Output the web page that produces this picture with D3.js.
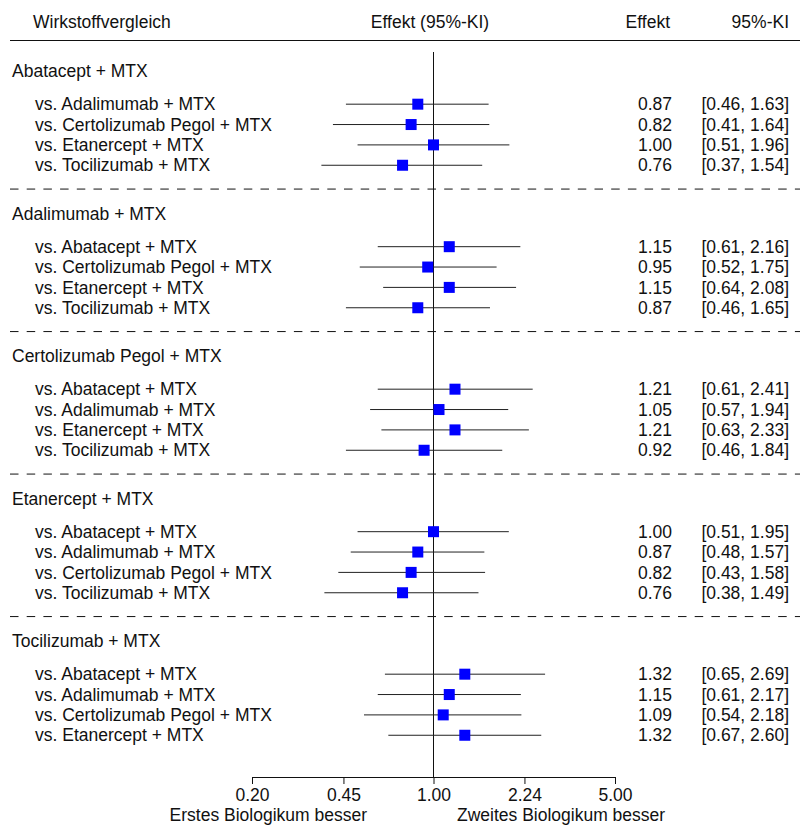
<!DOCTYPE html>
<html>
<head>
<meta charset="utf-8">
<script src="https://cdn.jsdelivr.net/npm/d3@7"></script>
<style>
  body { margin: 0; background: #fff; }
  text { font-family: 'Liberation Sans', Arial, sans-serif; fill: #111; }
</style>
</head>
<body>
<div id="chart"></div>
<script>
const groups = ['Abatacept + MTX', 'Adalimumab + MTX', 'Certolizumab Pegol + MTX', 'Etanercept + MTX', 'Tocilizumab + MTX']

const comparators = [
  ['Adalimumab + MTX', 'Certolizumab Pegol + MTX', 'Etanercept + MTX', 'Tocilizumab + MTX'],
  ['Abatacept + MTX', 'Certolizumab Pegol + MTX', 'Etanercept + MTX', 'Tocilizumab + MTX'],
  ['Abatacept + MTX', 'Adalimumab + MTX', 'Etanercept + MTX', 'Tocilizumab + MTX'],
  ['Abatacept + MTX', 'Adalimumab + MTX', 'Certolizumab Pegol + MTX', 'Tocilizumab + MTX'],
  ['Abatacept + MTX', 'Adalimumab + MTX', 'Certolizumab Pegol + MTX', 'Etanercept + MTX']
]

const effects = [
  [0.87, 0.82, 1.00, 0.76],
  [1.15, 0.95, 1.15, 0.87],
  [1.21, 1.05, 1.21, 0.92],
  [1.00, 0.87, 0.82, 0.76],
  [1.32, 1.15, 1.09, 1.32]
]

const lower = [
  [0.46, 0.41, 0.51, 0.37],
  [0.61, 0.52, 0.64, 0.46],
  [0.61, 0.57, 0.63, 0.46],
  [0.51, 0.48, 0.43, 0.38],
  [0.65, 0.61, 0.54, 0.67]
]

const upper = [
  [1.63, 1.64, 1.96, 1.54],
  [2.16, 1.75, 2.08, 1.65],
  [2.41, 1.94, 2.33, 1.84],
  [1.95, 1.57, 1.58, 1.49],
  [2.69, 2.17, 2.18, 2.60]
]

const tickValues = [0.20, 0.45, 1.00, 2.24, 5.00]

const width = 800
const height = 826
const fontSize = 17.5

const svg = d3
  .select('#chart')
  .append('svg')
  .attr('width', width)
  .attr('height', height)

// log scale for effect estimates
const xPositionScale = d3.scaleLog().domain([0.2, 5]).range([252, 615])

// row index -> pixel; each group takes 7 rows
const rowHeight = 142.5 / 7
const yPositionScale = d3.scaleLinear().domain([0, 1]).range([71, 71 + rowHeight])

const axisY = 777

// flatten rows
const rows = []
groups.forEach((g, gi) => {
  comparators[gi].forEach((c, i) => {
    rows.push({
      group: gi,
      label: 'vs. ' + c,
      est: effects[gi][i],
      lo: lower[gi][i],
      hi: upper[gi][i],
      row: gi * 7 + 1.63 + i
    })
  })
})

// header
const header = svg.append('g').attr('font-size', fontSize)
header.append('text').text('Wirkstoffvergleich').attr('x', 33).attr('y', 22).attr('dy', '0.35em')
header.append('text').text('Effekt (95%-KI)').attr('x', 430).attr('y', 22).attr('dy', '0.35em').attr('text-anchor', 'middle')
header.append('text').text('Effekt').attr('x', 670).attr('y', 22).attr('dy', '0.35em').attr('text-anchor', 'end')
header.append('text').text('95%-KI').attr('x', 789).attr('y', 22).attr('dy', '0.35em').attr('text-anchor', 'end')

svg.append('line')
  .attr('x1', 10).attr('x2', 800)
  .attr('y1', 40.5).attr('y2', 40.5)
  .attr('stroke', '#111')
  .attr('stroke-width', 1.2)

// dashed separators between groups
svg.selectAll('.sep')
  .data(groups.slice(0, -1))
  .enter()
  .append('line')
  .attr('class', 'sep')
  .attr('x1', 10).attr('x2', 800)
  .attr('y1', (d, i) => yPositionScale(i * 7 + 5.8))
  .attr('y2', (d, i) => yPositionScale(i * 7 + 5.8))
  .attr('stroke', '#111')
  .attr('stroke-dasharray', '8.5,8.2')

// reference line at 1
svg.append('line')
  .attr('x1', xPositionScale(1)).attr('x2', xPositionScale(1))
  .attr('y1', 52).attr('y2', axisY)
  .attr('stroke', '#111')

// group titles
svg.selectAll('.title')
  .data(groups)
  .enter()
  .append('text')
  .attr('class', 'title')
  .text(d => d)
  .attr('x', 12)
  .attr('y', (d, i) => yPositionScale(i * 7))
  .attr('dy', '0.35em')
  .attr('font-size', fontSize)

const rowG = svg.selectAll('.row')
  .data(rows)
  .enter()
  .append('g')
  .attr('class', 'row')
  .attr('transform', d => 'translate(0,' + yPositionScale(d.row) + ')')

rowG.append('text')
  .text(d => d.label)
  .attr('x', 35)
  .attr('dy', '0.35em')
  .attr('font-size', fontSize)

rowG.append('line')
  .attr('x1', d => xPositionScale(d.lo))
  .attr('x2', d => xPositionScale(d.hi))
  .attr('stroke', '#222')
  .attr('stroke-width', 1)

rowG.append('rect')
  .attr('x', d => xPositionScale(d.est) - 5.5)
  .attr('y', -5.5)
  .attr('width', 11)
  .attr('height', 11)
  .attr('fill', '#0000ff')

rowG.append('text')
  .text(d => d.est.toFixed(2))
  .attr('x', 672)
  .attr('dy', '0.35em')
  .attr('text-anchor', 'end')
  .attr('font-size', fontSize)

rowG.append('text')
  .text(d => '[' + d.lo.toFixed(2) + ', ' + d.hi.toFixed(2) + ']')
  .attr('x', 789)
  .attr('dy', '0.35em')
  .attr('text-anchor', 'end')
  .attr('font-size', fontSize)

// x axis
const xAxis = d3.axisBottom(xPositionScale)
  .tickValues(tickValues)
  .tickFormat(d3.format('.2f'))
  .tickSize(7)
  .tickSizeOuter(0)

const axisG = svg.append('g')
  .attr('transform', 'translate(0,' + axisY + ')')
  .call(xAxis)

axisG.selectAll('text')
  .attr('font-size', fontSize)
  .attr('font-family', null)
  .attr('dy', '0.71em')
  .attr('y', 12)
axisG.selectAll('path, line').attr('stroke', '#111')

svg.append('text')
  .text('Erstes Biologikum besser')
  .attr('x', 367)
  .attr('y', 821)
  .attr('text-anchor', 'end')
  .attr('font-size', fontSize)

svg.append('text')
  .text('Zweites Biologikum besser')
  .attr('x', 457)
  .attr('y', 821)
  .attr('font-size', fontSize)
</script>
</body>
</html>
